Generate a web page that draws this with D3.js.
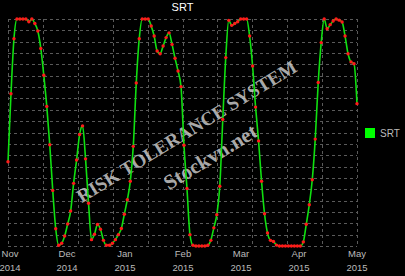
<!DOCTYPE html>
<html>
<head>
<meta charset="utf-8">
<script src="https://cdn.jsdelivr.net/npm/d3@7"></script>
<style>
body{margin:0;background:#000;}
</style>
</head>
<body>
<div id="chart"></div>
<script>
// SRT reading per trading day, Nov 2014 - May 2015
const srtValues=[37.1,67.1,91.3,100,100,100,100,98.8,100,98,
  94.7,87,75.2,61.5,44.6,24.5,7.6,0.3,1.2,4.4,
  9.7,15.4,27.6,37.9,49.1,52.9,38.4,18.8,2.8,5.2,
  9.5,7.4,2.5,0.3,0.3,1.2,2.8,5,7.7,14,
  20.4,28.5,43.9,71.8,91.3,100,100,100,96.9,92.5,
  85.9,84.7,88.1,91.8,93.9,88.8,82.7,77.1,70.2,44.4,
  25.3,5,0.3,0,0,0,0,0.3,2.5,8,
  13.8,26.3,55.7,83,99.4,97.2,98,98.8,100,100,
  100,92.5,79.3,61.2,46.3,28.5,14.2,5.7,2.5,2,
  0.4,0,0,0,0,0,0,0,0,1.8,
  9.6,18.2,29.2,47.1,72,89.6,100,95.7,97.5,99.1,
  100,99.5,98.7,92.5,84.7,81.1,80.3,62.7];
const monthLabels=["Nov","Dec","Jan","Feb","Mar","Apr","May"];
const yearLabels=["2014","2014","2015","2015","2015","2015","2015"];
const yTicks=d3.range(0,101,5);
const xGrid=d3.range(0,11);
const seriesName="SRT";

const W=405,H=276;
const plotL=8,plotR=357,plotT=19,plotB=246;

const svg=d3.select('#chart').append('svg')
  .attr('width',W).attr('height',H)
  .style('background','#000')
  .style('display','block');

const x=d3.scaleLinear().domain([0,srtValues.length-1]).range([plotL,plotR]);
const y=d3.scaleLinear().domain([0,100]).range([plotB,plotT]);
const gx=d3.scaleLinear().domain([0,10]).range([plotL,plotR]);
const mx=d3.scalePoint().domain(d3.range(monthLabels.length)).range([plotL+1,plotR]);

// grid
const grid=svg.append('g').attr('stroke','#5a5a5a').attr('stroke-width',1).attr('stroke-dasharray','3,3');
grid.selectAll('.h').data(yTicks).join('line')
  .attr('x1',plotL).attr('x2',plotR)
  .attr('y1',d=>Math.round(y(d))+0.5).attr('y2',d=>Math.round(y(d))+0.5);
grid.selectAll('.v').data(xGrid).join('line')
  .attr('y1',plotT).attr('y2',plotB)
  .attr('x1',d=>Math.round(gx(d))+0.5).attr('x2',d=>Math.round(gx(d))+0.5);

// title
svg.append('text').attr('x',(plotL+plotR)/2).attr('y',11)
  .attr('text-anchor','middle').attr('fill','#fff')
  .attr('font-family','Liberation Sans, Arial, sans-serif').attr('font-size','11px')
  .text(seriesName);

// x labels
const xl=svg.append('g').attr('fill','#bbb')
  .attr('font-family','Liberation Sans, Arial, sans-serif').attr('font-size','9.5px')
  .attr('text-anchor','middle');
xl.selectAll('.m').data(monthLabels).join('text')
  .attr('x',(d,i)=>Math.max(mx(i),10)).attr('y',257).text(d=>d);
xl.selectAll('.yr').data(yearLabels).join('text')
  .attr('x',(d,i)=>Math.max(mx(i),10)).attr('y',271).text(d=>d);

// watermark
const wm=svg.append('g').attr('fill','#d8d8d8').attr('fill-opacity',0.8)
  .attr('font-family','Liberation Serif, Times New Roman, serif').attr('font-weight','bold')
  .attr('text-anchor','middle');
wm.append('text').attr('transform','translate(190,137) rotate(-31.5)')
  .attr('font-size','19px').text('RISK TOLERANCE SYSTEM');
wm.append('text').attr('transform','translate(214,163) rotate(-31.5)')
  .attr('font-size','21px').text('Stockvn.net');

// line
const line=d3.line().x((d,i)=>x(i)).y(d=>y(d)).curve(d3.curveMonotoneX);
svg.append('path').datum(srtValues)
  .attr('d',line).attr('fill','none')
  .attr('stroke','#10e010').attr('stroke-width',1.6);

svg.append('g').selectAll('circle').data(srtValues).join('circle')
  .attr('cx',(d,i)=>x(i)).attr('cy',d=>y(d)).attr('r',1.7)
  .attr('fill','#ff1a1a');

// legend
svg.append('rect').attr('x',365).attr('y',128).attr('width',10).attr('height',10).attr('fill','#00ff00');
svg.append('text').attr('x',380).attr('y',137).attr('fill','#bbb')
  .attr('font-family','Liberation Sans, Arial, sans-serif').attr('font-size','10px')
  .text(seriesName);
</script>
</body>
</html>
